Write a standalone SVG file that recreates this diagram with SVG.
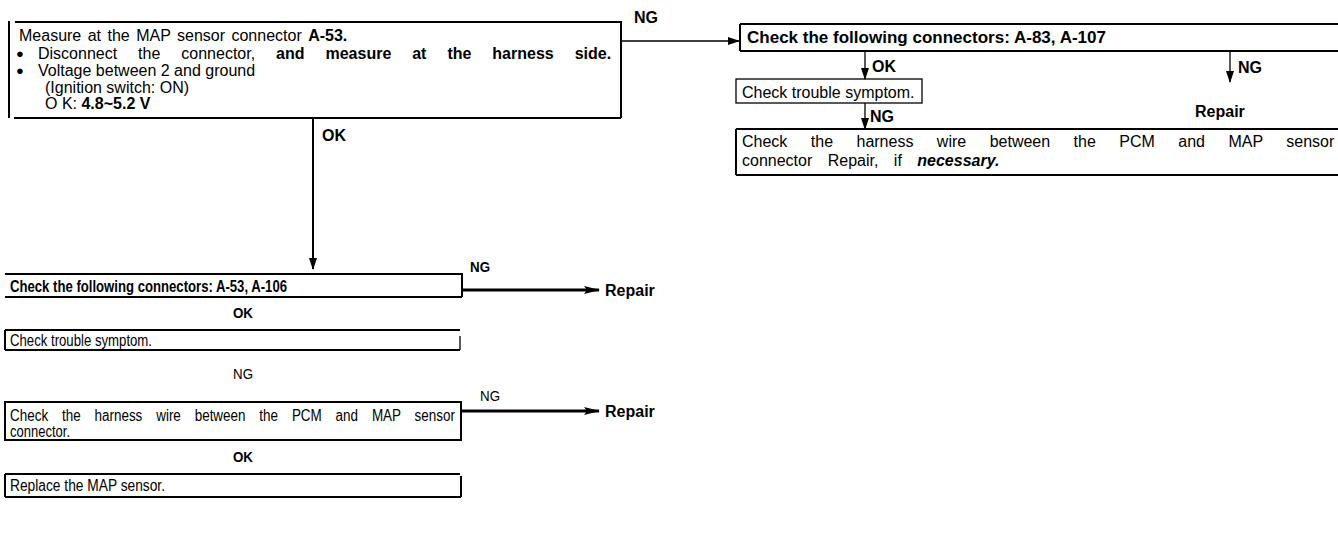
<svg xmlns="http://www.w3.org/2000/svg" width="1338" height="554" viewBox="0 0 1338 554">
<defs>
<style>
text{font-family:"Liberation Sans",Arial,Helvetica,sans-serif;fill:#000}
.t16{font-size:16px}
.t15{font-size:15px}
.b{font-weight:bold}
.ln{stroke:#000;fill:none}
.w2{stroke-width:2}
.w1{stroke-width:1.3}
.w3{stroke-width:3}
</style>
<marker id="ah" markerUnits="userSpaceOnUse" markerWidth="12" markerHeight="8" refX="11" refY="4" orient="auto">
<path d="M0,0 L12,4 L0,8 Z" fill="#000"/>
</marker>
<marker id="ahb" markerUnits="userSpaceOnUse" markerWidth="16" markerHeight="8" refX="15" refY="4" orient="auto">
<path d="M0,0 L16,4 L0,8 L3,4 Z" fill="#000"/>
</marker>
</defs>
<rect width="1338" height="554" fill="#fff"/>

<g id="n1">
<path class="ln w2" d="M15,22 H621 V118 M9,21 V118 M14,118 H621"/>
<text class="t16" x="19" y="40.5" word-spacing="2">Measure at the MAP sensor connector <tspan class="b">A-53.</tspan></text>
<text x="16" y="58" font-size="13">●</text>
<text class="t16" x="38" y="58.5" word-spacing="16.5">Disconnect the connector, <tspan class="b">and measure at the harness side.</tspan></text>
<text x="16" y="75" font-size="13">●</text>
<text class="t16" x="38" y="75.5">Voltage between 2 and ground</text>
<text class="t16" x="45" y="92.5">(Ignition switch: ON)</text>
<text class="t16" x="45" y="108.5">O K:  <tspan class="b">4.8~5.2 V</tspan></text>
</g>

<g id="n2">
<path class="ln w2" d="M740,24 H1338 M740,24 V51 M740,51 H1338"/>
<text class="t16 b" x="747" y="43" textLength="359" lengthAdjust="spacingAndGlyphs">Check the following connectors: A-83, A-107</text>
</g>

<g id="n3">
<rect class="ln w1" x="736" y="79" width="186" height="24"/>
<text class="t16" x="742" y="97.5">Check trouble symptom.</text>
</g>

<g id="n4">
<text class="t16 b" x="1195" y="117">Repair</text>
</g>

<g id="n5">
<path class="ln w2" d="M736,129 H1338 M736,129 V175 M736,175 H1338"/>
<text class="t16" x="742" y="147" word-spacing="19">Check the harness wire between the PCM and MAP sensor</text>
<text class="t16" x="742" y="166" word-spacing="11">connector Repair, if <tspan class="b" font-style="italic">necessary.</tspan></text>
</g>

<g id="n6">
<path class="ln w2" d="M5,274 H462 V297 M5,297 H462"/>
<text class="t16 b" x="10" y="292" textLength="277" lengthAdjust="spacingAndGlyphs">Check the following connectors: A-53, A-106</text>
</g>

<g id="n7">
<text class="t16 b" x="605" y="296">Repair</text>
</g>

<g id="n8">
<path class="ln w2" d="M5,330 H460 M5,330 V350 M5,350 H460"/>
<path class="ln w1" d="M460,336 V350"/>
<text class="t16" x="10" y="345.5" textLength="142" lengthAdjust="spacingAndGlyphs">Check trouble symptom.</text>
</g>

<g id="n9">
<rect class="ln w2" x="5" y="402" width="456" height="38"/>
<text class="t16" x="10" y="420.5" word-spacing="12" textLength="445" lengthAdjust="spacingAndGlyphs">Check the harness wire between the PCM and MAP sensor</text>
<text class="t16" x="10" y="436.5" textLength="60" lengthAdjust="spacingAndGlyphs">connector.</text>
</g>

<g id="n10">
<text class="t16 b" x="605" y="417">Repair</text>
</g>

<g id="n11">
<path class="ln w2" d="M5,474 H460 M5,474 V497 M5,497 H461 M461,476 V497"/>
<text class="t16" x="10" y="490.5" textLength="155" lengthAdjust="spacingAndGlyphs">Replace the MAP sensor.</text>
</g>

<g id="connectors">
<line class="ln w1" x1="621" y1="41" x2="739" y2="41" marker-end="url(#ah)"/>
<text class="t16 b" x="634" y="23">NG</text>
<line class="ln w2" x1="313" y1="118" x2="313" y2="269" marker-end="url(#ah)"/>
<text class="t16 b" x="322" y="141">OK</text>
<line class="ln w1" x1="865" y1="51" x2="865" y2="79" marker-end="url(#ah)"/>
<text class="t16 b" x="872" y="72">OK</text>
<line class="ln w1" x1="1230" y1="51" x2="1230" y2="82" marker-end="url(#ah)"/>
<text class="t16 b" x="1238" y="73">NG</text>
<line class="ln w1" x1="865" y1="103" x2="865" y2="129" marker-end="url(#ah)"/>
<text class="t16 b" x="870" y="122">NG</text>
<line class="ln w3" x1="463" y1="290" x2="599" y2="290" marker-end="url(#ahb)"/>
<text class="t15 b" x="470" y="271.5" textLength="20" lengthAdjust="spacingAndGlyphs">NG</text>
<text class="t15 b" x="233" y="317.5" textLength="20" lengthAdjust="spacingAndGlyphs">OK</text>
<text class="t15" x="233" y="378.5" textLength="20" lengthAdjust="spacingAndGlyphs">NG</text>
<line class="ln w3" x1="461" y1="411" x2="599" y2="411" marker-end="url(#ahb)"/>
<text class="t15" x="480" y="400.5" textLength="20" lengthAdjust="spacingAndGlyphs">NG</text>
<text class="t15 b" x="233" y="461.5" textLength="20" lengthAdjust="spacingAndGlyphs">OK</text>
</g>
</svg>
